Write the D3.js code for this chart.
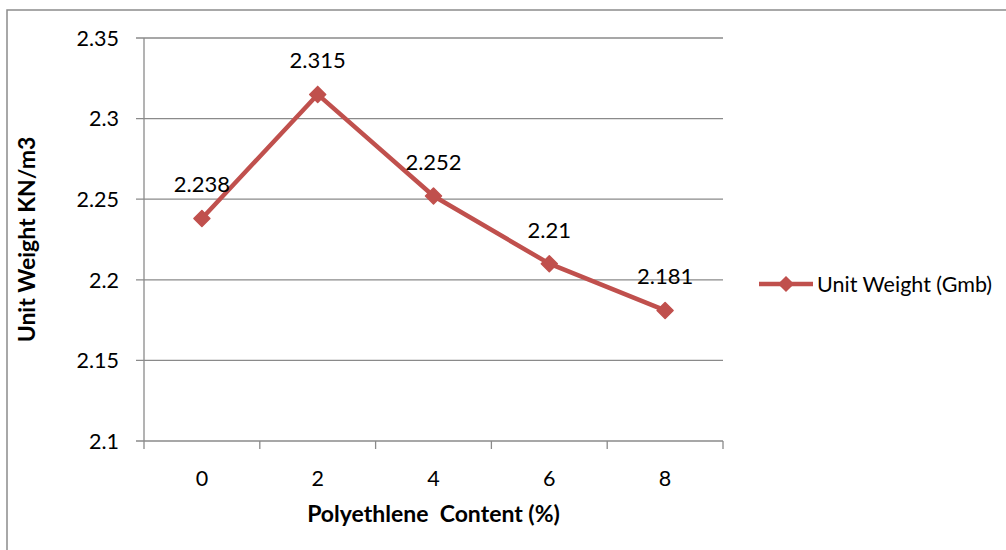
<!DOCTYPE html>
<html>
<head>
<meta charset="utf-8">
<script src="https://cdn.jsdelivr.net/npm/d3@7"></script>
<style>
  html, body { margin: 0; padding: 0; background: #fff; }
  svg { display: block; }
  text { font-family: Lato, "Open Sans", sans-serif; fill: #000; }
</style>
</head>
<body>
<svg id="chart" width="1006" height="550"></svg>
<script>
const categories = ["0", "2", "4", "6", "8"];
const values = [2.238, 2.315, 2.252, 2.21, 2.181];
const valueLabels = ["2.238", "2.315", "2.252", "2.21", "2.181"];
const yTicks = [2.1, 2.15, 2.2, 2.25, 2.3, 2.35];
const yTickLabels = ["2.1", "2.15", "2.2", "2.25", "2.3", "2.35"];
const seriesName = "Unit Weight (Gmb)";
const xTitle = "Polyethlene  Content (%)";
const yTitle = "Unit Weight KN/m3";

const svg = d3.select("#chart");
const lineColor = "#C0504D";
const gridColor = "#8a8a8a";

const plot = { left: 144, right: 723, top: 38, bottom: 441 };

const x = d3.scaleBand().domain(categories).range([plot.left, plot.right]).padding(0);
const y = d3.scaleLinear().domain([2.1, 2.35]).range([plot.bottom, plot.top]);

// chart border (left & top visible)
svg.append("path")
  .attr("d", `M7,550 L7,10 L1006,10`)
  .attr("fill", "none").attr("stroke", "#8c8c8c").attr("stroke-width", 1.5);

// gridlines + y ticks
svg.append("g").selectAll("line").data(yTicks).join("line")
  .attr("x1", plot.left - 8).attr("x2", plot.right)
  .attr("y1", d => y(d)).attr("y2", d => y(d))
  .attr("stroke", gridColor).attr("stroke-width", 1.3);

svg.append("g").selectAll("text").data(yTicks).join("text")
  .attr("x", 119).attr("y", d => y(d)).attr("dy", "0.36em")
  .attr("text-anchor", "end").attr("font-size", 21.5)
  .text((d, i) => yTickLabels[i]);

// y axis line
svg.append("line")
  .attr("x1", plot.left).attr("x2", plot.left)
  .attr("y1", plot.top).attr("y2", plot.bottom)
  .attr("stroke", gridColor).attr("stroke-width", 1.3);

// x axis ticks at band boundaries
const boundaries = categories.map(c => x(c)).concat([x(categories[categories.length - 1]) + x.bandwidth()]);
svg.append("g").selectAll("line").data(boundaries).join("line")
  .attr("x1", d => d).attr("x2", d => d)
  .attr("y1", plot.bottom).attr("y2", plot.bottom + 8)
  .attr("stroke", gridColor).attr("stroke-width", 1.3);

svg.append("g").selectAll("text").data(categories).join("text")
  .attr("x", d => x(d) + x.bandwidth() / 2).attr("y", 478).attr("dy", "0.36em")
  .attr("text-anchor", "middle").attr("font-size", 21.5)
  .text(d => d);

// axis titles
svg.append("text")
  .attr("x", (plot.left + plot.right) / 2).attr("y", 514).attr("dy", "0.36em")
  .attr("text-anchor", "middle").attr("font-size", 23).attr("font-weight", "bold")
  .style("white-space", "pre")
  .text(xTitle);

svg.append("text")
  .attr("transform", `translate(27,${(plot.top + plot.bottom) / 2}) rotate(-90)`)
  .attr("dy", "0.36em")
  .attr("text-anchor", "middle").attr("font-size", 23).attr("font-weight", "bold")
  .text(yTitle);

// series line
const cx = d => x(d) + x.bandwidth() / 2;
const line = d3.line().x((d, i) => cx(categories[i])).y(d => y(d));
svg.append("path").datum(values)
  .attr("d", line)
  .attr("fill", "none").attr("stroke", lineColor).attr("stroke-width", 4.5)
  .attr("stroke-linejoin", "round");

const diamond = (px, py, r) => `M${px},${py - r}L${px + r},${py}L${px},${py + r}L${px - r},${py}Z`;
svg.append("g").selectAll("path").data(values).join("path")
  .attr("d", (d, i) => diamond(cx(categories[i]), y(d), 8))
  .attr("fill", lineColor).attr("stroke", lineColor).attr("stroke-width", 1.5)
  .attr("stroke-linejoin", "round");

// data labels
svg.append("g").selectAll("text").data(values).join("text")
  .attr("x", (d, i) => cx(categories[i])).attr("y", d => y(d) - 34).attr("dy", "0.36em")
  .attr("text-anchor", "middle").attr("font-size", 22)
  .text((d, i) => valueLabels[i]);

// legend
const lg = svg.append("g");
lg.append("line").attr("x1", 759).attr("x2", 813).attr("y1", 284).attr("y2", 284)
  .attr("stroke", lineColor).attr("stroke-width", 4.5);
lg.append("path").attr("d", diamond(786, 284, 7)).attr("fill", lineColor)
  .attr("stroke", lineColor).attr("stroke-width", 1.5);
lg.append("text").attr("x", 817).attr("y", 284).attr("dy", "0.36em")
  .attr("font-size", 21.5).text(seriesName);
</script>
</body>
</html>
